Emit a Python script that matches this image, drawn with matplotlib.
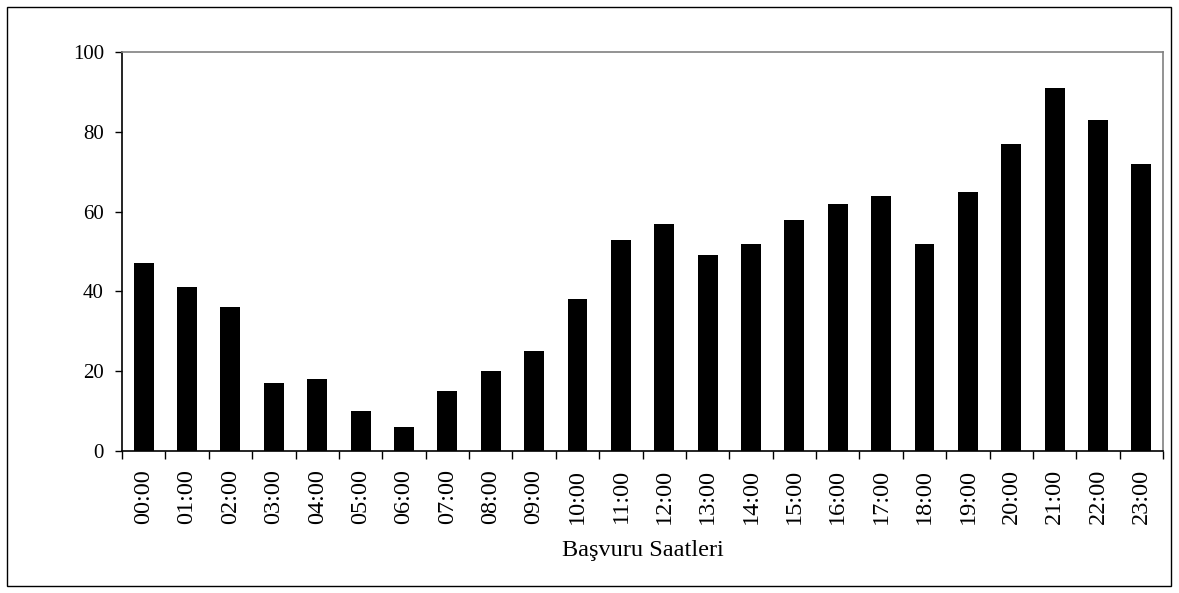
import matplotlib.pyplot as plt
import numpy as np
from matplotlib.patches import Rectangle

plt.rcParams['font.family'] = ['Liberation Serif', 'DejaVu Serif']

hours = ['00:00', '01:00', '02:00', '03:00', '04:00', '05:00', '06:00', '07:00',
         '08:00', '09:00', '10:00', '11:00', '12:00', '13:00', '14:00', '15:00',
         '16:00', '17:00', '18:00', '19:00', '20:00', '21:00', '22:00', '23:00']
counts = [47, 41, 36, 17, 18, 10, 6, 15, 20, 25, 38, 53, 57, 49, 52, 58,
          62, 64, 52, 65, 77, 91, 83, 72]

fig = plt.figure(figsize=(11.79, 5.93), dpi=100)
ax = fig.add_axes([0.1035, 0.2395, 0.883, 0.6728])

x = np.arange(len(hours))
ax.bar(x, counts, width=0.46, color='black')

ax.set_xlim(-0.5, len(hours) - 0.5)
ax.set_ylim(0, 100)
ax.set_yticks([0, 20, 40, 60, 80, 100])

# labels at the centres, tick marks between categories
ax.set_xticks(x)
ax.set_xticklabels(hours, rotation=90)
ax.set_xticks(np.arange(-0.5, len(hours)), minor=True)
ax.tick_params(axis='x', which='major', length=0, pad=13, labelsize=17.5)
ax.tick_params(axis='x', which='minor', length=6, width=1, direction='out')
ax.tick_params(axis='y', length=5, width=1, pad=8, labelsize=15)

ax.spines['left'].set_color('black')
ax.spines['bottom'].set_color('black')
ax.spines['top'].set_color('#808080')
ax.spines['right'].set_color('#808080')
for s in ax.spines.values():
    s.set_linewidth(1.2)

ax.set_xlabel('Başvuru Saatleri', fontsize=17.5, labelpad=11)

# outer chart border
fig.patches.append(Rectangle((0.006, 0.012), 0.987, 0.976, transform=fig.transFigure,
                             fill=False, edgecolor='black', linewidth=1))

fig.savefig('out.png', dpi=100)
